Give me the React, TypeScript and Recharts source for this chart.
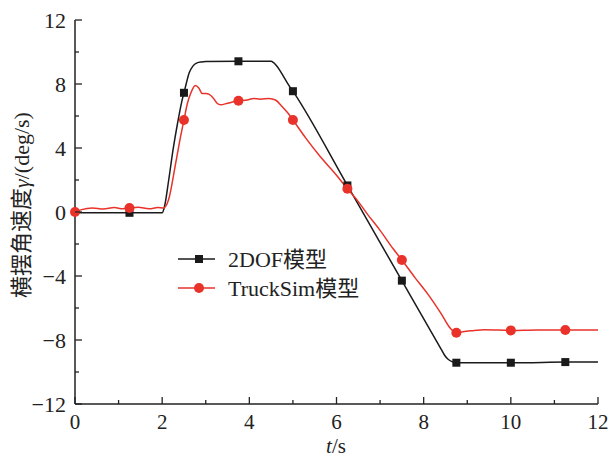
import React from "react";
import { LineChart, Line, XAxis, YAxis, Legend } from "recharts";

// 2DOF model
const dofTime = [0, 1.25, 2.0, 2.05, 2.15, 2.25, 2.35, 2.45, 2.5, 2.55, 2.62, 2.7, 2.8, 2.9, 3.0, 3.75, 4.5, 4.55, 4.62, 4.7, 4.8, 4.9, 5.0, 6.25, 7.5, 8.4, 8.48, 8.56, 8.65, 8.75, 10, 11.25, 12];
const dofRate = [-0.05, -0.05, -0.05, 0.3, 2.0, 3.9, 5.5, 6.9, 7.45, 8.0, 8.7, 9.1, 9.32, 9.38, 9.4, 9.42, 9.42, 9.35, 9.15, 8.85, 8.4, 7.95, 7.55, 1.66, -4.29, -8.57, -8.95, -9.2, -9.35, -9.42, -9.42, -9.38, -9.37];
const dofMarkers = [1.25, 2.5, 3.75, 5, 6.25, 7.5, 8.75, 10, 11.25];

// TruckSim model
const tsTime = [0, 0.15, 0.4, 0.65, 0.9, 1.1, 1.25, 1.45, 1.7, 1.9, 2.03, 2.15, 2.3, 2.4, 2.5, 2.58, 2.66, 2.76, 2.84, 2.92, 3.0, 3.08, 3.18, 3.26, 3.34, 3.5, 3.75, 3.95, 4.1, 4.25, 4.45, 4.6, 4.75, 4.88, 5.0, 5.3, 5.63, 6.0, 6.25, 6.5, 6.7, 7.0, 7.3, 7.5, 7.8, 8.1, 8.4, 8.62, 8.75, 8.9, 9.1, 9.4, 10, 10.6, 11.25, 12];
const tsRate = [0.0, 0.15, 0.25, 0.18, 0.28, 0.2, 0.25, 0.3, 0.2, 0.28, 0.25, 0.8, 2.9, 4.4, 5.75, 6.8, 7.45, 7.9, 7.75, 7.4, 7.4, 7.35, 7.1, 6.8, 6.7, 6.8, 6.95, 7.0, 7.1, 7.05, 7.1, 7.0, 6.6, 6.2, 5.75, 4.6, 3.45, 2.3, 1.45, 0.65, -0.1, -1.15, -2.3, -3.0, -4.1, -5.15, -6.35, -7.3, -7.55, -7.48, -7.42, -7.36, -7.4, -7.37, -7.37, -7.38];
const tsMarkers = [0, 1.25, 2.5, 3.75, 5, 6.25, 7.5, 8.75, 10, 11.25];

const xTicks = [0, 1, 2, 3, 4, 5, 6, 7, 8, 9, 10, 11, 12];
const yTicks = [-12, -10, -8, -6, -4, -2, 0, 2, 4, 6, 8, 10, 12];

const seriesNames = ["2DOF模型", "TruckSim模型"];

const dofData = dofTime.map((t, i) => ({ t, v: dofRate[i] }));
const tsData = tsTime.map((t, i) => ({ t, v: tsRate[i] }));

const BLACK = "#1a1a1a";
const RED = "#e8322a";
const FONT = "'Liberation Serif', 'Times New Roman', 'Noto Sans CJK SC', serif";

const fmt = (v: number) => (v < 0 ? "\u2212" + Math.abs(v) : String(v));

const XTick = (props: any) => {
  const { x, y, payload } = props;
  const v = payload.value;
  const major = v % 2 === 0;
  return (
    <g>
      <line x1={x} x2={x} y1={y} y2={y - (major ? 7 : 4)} stroke="#222" strokeWidth={1.3} />
      {major && (
        <text x={x} y={y + 25} textAnchor="middle" fontSize={21} fontFamily={FONT} fill="#222">
          {fmt(v)}
        </text>
      )}
    </g>
  );
};

const YTick = (props: any) => {
  const { x, y, payload } = props;
  const v = payload.value;
  const major = v % 4 === 0;
  return (
    <g>
      <line x1={x} x2={x + (major ? 7 : 4)} y1={y} y2={y} stroke="#222" strokeWidth={1.3} />
      {major && (
        <text x={x - 9} y={y + 7.5} textAnchor="end" fontSize={22} fontFamily={FONT} fill="#222">
          {fmt(v)}
        </text>
      )}
    </g>
  );
};

const makeDot = (markers: number[], kind: "square" | "circle", color: string) => (props: any) => {
  const { cx, cy, payload, index } = props;
  if (!markers.includes(payload.t)) return <g key={`e-${kind}-${index}`} />;
  if (kind === "square")
    return <rect key={`d-${kind}-${index}`} x={cx - 4} y={cy - 4} width={8} height={8} fill={color} />;
  return <circle key={`d-${kind}-${index}`} cx={cx} cy={cy} r={5} fill={color} />;
};

const LegendContent = () => (
  <svg width={200} height={56} style={{ display: "block", overflow: "visible" }}>
    <line x1={0} x2={37} y1={14} y2={14} stroke={BLACK} strokeWidth={1.5} />
    <rect x={17} y={10} width={8} height={8} fill={BLACK} />
    <text x={50} y={22} fontSize={22} fontFamily={FONT} fill="#222">{seriesNames[0]}</text>
    <line x1={0} x2={37} y1={43} y2={43} stroke={RED} strokeWidth={1.5} />
    <circle cx={21} cy={43} r={5} fill={RED} />
    <text x={50} y={51} fontSize={22} fontFamily={FONT} fill="#222">{seriesNames[1]}</text>
  </svg>
);

export default function App() {
  return (
    <div style={{ position: "absolute", left: 0, top: 0, width: 611, height: 460, background: "#fff" }}>
      <LineChart width={611} height={460} margin={{ top: 20, right: 13, bottom: 0, left: 0 }}>
        <XAxis
          dataKey="t"
          type="number"
          domain={[0, 12]}
          ticks={xTicks}
          interval={0}
          allowDuplicatedCategory={false}
          height={56}
          tickSize={0}
          tickMargin={0}
          tickLine={false}
          tick={<XTick />}
          axisLine={{ stroke: "#222", strokeWidth: 1.5 }}
          label={{
            content: () => (
              <text x={336} y={453} textAnchor="middle" fontSize={21} fontFamily={FONT} fill="#222">
                <tspan fontStyle="italic">t</tspan>/s
              </text>
            ),
          }}
        />
        <YAxis
          type="number"
          domain={[-12, 12]}
          ticks={yTicks}
          interval={0}
          width={75}
          tickSize={0}
          tickMargin={0}
          tickLine={false}
          tick={<YTick />}
          axisLine={{ stroke: "#222", strokeWidth: 1.5 }}
          label={{
            content: () => (
              <text
                transform="translate(29,205) rotate(-90)"
                textAnchor="middle"
                fontSize={22}
                fontFamily={FONT}
                fill="#222"
              >
                横摆角速度<tspan fontStyle="italic">γ</tspan>/(deg/s)
              </text>
            ),
          }}
        />
        <Legend
          layout="horizontal"
          verticalAlign="middle"
          align="center"
          content={<LegendContent />}
          wrapperStyle={{ position: "absolute", left: 178, top: 245, width: 200, height: 56 }}
        />
        <Line
          data={dofData}
          dataKey="v"
          name={seriesNames[0]}
          type="monotone"
          stroke={BLACK}
          strokeWidth={1.5}
          dot={makeDot(dofMarkers, "square", BLACK)}
          activeDot={false}
          isAnimationActive={false}
        />
        <Line
          data={tsData}
          dataKey="v"
          name={seriesNames[1]}
          type="monotone"
          stroke={RED}
          strokeWidth={1.5}
          dot={makeDot(tsMarkers, "circle", RED)}
          activeDot={false}
          isAnimationActive={false}
        />
      </LineChart>
    </div>
  );
}
